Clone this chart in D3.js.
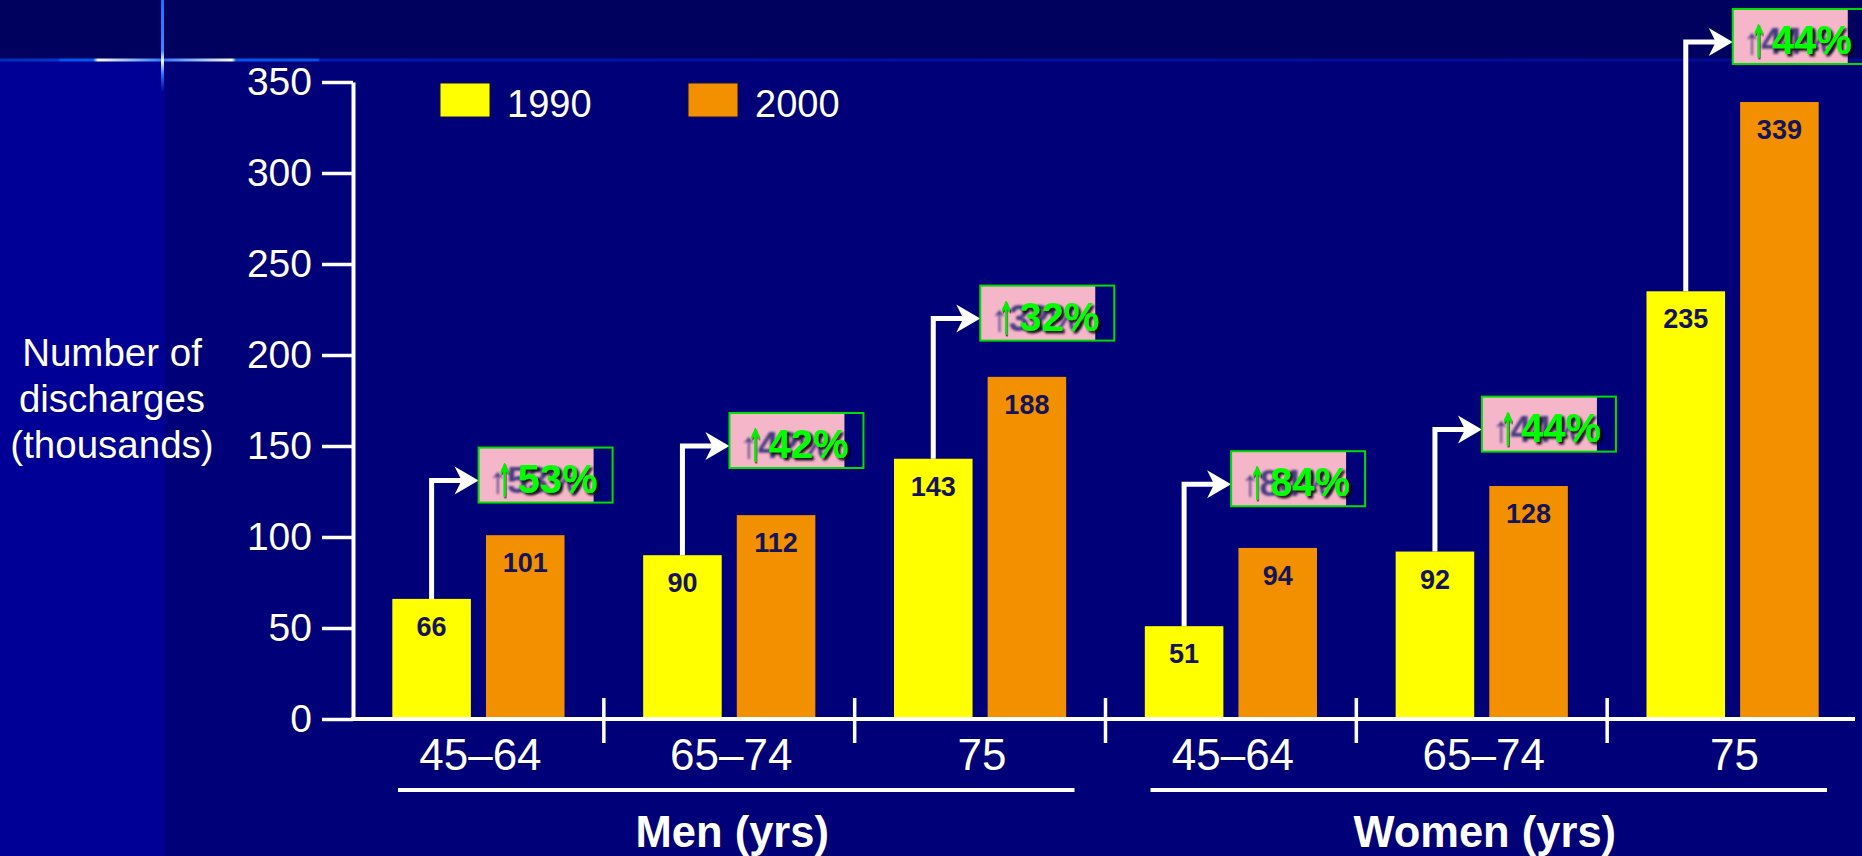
<!DOCTYPE html>
<html>
<head>
<meta charset="utf-8">
<script src="https://cdn.jsdelivr.net/npm/d3@7"></script>
<style>
  html, body { margin: 0; padding: 0; background: #000078; overflow: hidden; }
  svg { display: block; }
  text { font-family: "Liberation Sans", Arial, Helvetica, sans-serif; }
</style>
</head>
<body>
<svg id="chart" width="1862" height="856"></svg>
<script>
// Hospital discharges (thousands) by sex and age band, 1990 vs 2000
const groups = ["Men (yrs)", "Women (yrs)"];
const ageBands = ["45–64", "65–74", "75"];
const categories = ["Men 45–64", "Men 65–74", "Men 75", "Women 45–64", "Women 65–74", "Women 75"];
const series = ["1990", "2000"];
const values1990 = [66, 90, 143, 51, 92, 235];
const values2000 = [101, 112, 188, 94, 128, 339];
const pctChange = ["53%", "42%", "32%", "84%", "44%", "44%"];
const pctLevel = [131, 150, 220, 129, 159, 372];   // height (thousands) of each change callout
const yTicks = [0, 50, 100, 150, 200, 250, 300, 350];

const W = 1862, H = 856;
const svg = d3.select("#chart");
const defs = svg.append("defs");
const halo = sel => sel.attr("stroke", "#000030").attr("stroke-width", 1)
  .attr("stroke-opacity", 0.5).attr("paint-order", "stroke");

// ---- slide background ----
svg.append("rect").attr("width", W).attr("height", H).attr("fill", "#000078");
svg.append("rect").attr("x", 0).attr("y", 60).attr("width", 165).attr("height", H - 60).attr("fill", "#000096");
svg.append("rect").attr("width", W).attr("height", 60).attr("fill", "#00005f");

const hg = defs.append("linearGradient").attr("id", "hline").attr("x1", 0).attr("x2", W).attr("y1", 0).attr("y2", 0)
  .attr("gradientUnits", "userSpaceOnUse");
[[0, "#0030b8"], [58, "#0036c8"], [60, "#0058f0"], [93, "#0058f0"], [98, "#fbfbe6"], [163, "#2a78ff"],
 [232, "#fbfbe6"], [236, "#0058f0"], [318, "#0052ea"], [320, "#0018b4"], [700, "#0012a8"], [1862, "#000c90"]]
  .forEach(([o, c]) => hg.append("stop").attr("offset", o / W).attr("stop-color", c));
svg.append("rect").attr("x", 0).attr("y", 58.5).attr("width", W).attr("height", 3).attr("fill", "url(#hline)");

const vg = defs.append("linearGradient").attr("id", "vline").attr("x1", 0).attr("x2", 0).attr("y1", 0).attr("y2", 1);
[[0, "#1e70ff", 1], [0.55, "#3a86ff", 1], [0.66, "#fbfbe6", 1], [0.8, "#2a78ff", 1], [1, "#1e70ff", 0]]
  .forEach(([o, c, a]) => vg.append("stop").attr("offset", o).attr("stop-color", c).attr("stop-opacity", a));
svg.append("rect").attr("x", 161).attr("y", 0).attr("width", 3).attr("height", 92).attr("fill", "url(#vline)");

// ---- filters ----
const sh = defs.append("filter").attr("id", "greenShadow").attr("x", "-20%").attr("y", "-20%").attr("width", "140%").attr("height", "140%");
sh.append("feDropShadow").attr("dx", 2.5).attr("dy", 2.5).attr("stdDeviation", 0.8)
  .attr("flood-color", "#000000").attr("flood-opacity", 0.9);
const sh2 = defs.append("filter").attr("id", "arrowShadow").attr("x", "-30%").attr("y", "-20%").attr("width", "160%").attr("height", "140%");
sh2.append("feDropShadow").attr("dx", 1.5).attr("dy", 1.5).attr("stdDeviation", 0.6)
  .attr("flood-color", "#000000").attr("flood-opacity", 0.7);
const bl = defs.append("filter").attr("id", "soft").attr("x", "-20%").attr("y", "-20%").attr("width", "140%").attr("height", "140%");
bl.append("feGaussianBlur").attr("stdDeviation", 1.3);

// ---- scales ----
const x = d3.scaleBand().domain(d3.range(categories.length)).range([353, 1858]).paddingInner(0).paddingOuter(0);
const xs = d3.scaleBand().domain(series).range([0, x.step()]).paddingInner(0.161).paddingOuter(0.42);
const y = d3.scaleLinear().domain([0, 350]).range([719, 82]);
const color = d3.scaleOrdinal().domain(series).range(["#ffff00", "#f39000"]);

const rows = categories.map((c, i) => ({ i, c, v: { "1990": values1990[i], "2000": values2000[i] } }));

// ---- bars ----
const barG = svg.append("g");
rows.forEach(r => {
  series.forEach(s => {
    const bx = x(r.i) + xs(s);
    barG.append("rect")
      .attr("x", bx).attr("y", y(r.v[s]))
      .attr("width", xs.bandwidth()).attr("height", y(0) - y(r.v[s]))
      .attr("fill", color(s));
    barG.append("text")
      .attr("x", bx + xs.bandwidth() / 2).attr("y", y(r.v[s]) + 37)
      .attr("text-anchor", "middle")
      .attr("font-size", 27).attr("font-weight", "bold")
      .attr("fill", "#14145a")
      .text(r.v[s]);
  });
});

// ---- y axis ----
const yAxis = svg.append("g").attr("transform", "translate(353,0)")
  .call(d3.axisLeft(y).tickValues(yTicks).tickSize(31).tickPadding(10).tickSizeOuter(0));
yAxis.select(".domain").attr("stroke", "#ffffff").attr("stroke-width", 4);
yAxis.selectAll(".tick line").attr("stroke", "#ffffff").attr("stroke-width", 3.5);
yAxis.selectAll(".tick text")
  .attr("fill", "#ffffff").attr("font-size", 39)
  .attr("font-family", "\"Liberation Sans\", Arial, sans-serif")
  .call(halo);

// y title
const yTitle = svg.append("text").attr("text-anchor", "middle").attr("fill", "#ffffff").attr("font-size", 38.5).call(halo);
["Number of", "discharges", "(thousands)"].forEach((t, k) =>
  yTitle.append("tspan").attr("x", 112).attr("y", 366 + k * 46).text(t));

// ---- x baseline and category separators ----
svg.append("line").attr("x1", 351).attr("x2", 1855).attr("y1", y(0)).attr("y2", y(0))
  .attr("stroke", "#ffffff").attr("stroke-width", 4);
d3.range(1, categories.length).forEach(i => {
  svg.append("line").attr("x1", x(i)).attr("x2", x(i)).attr("y1", y(0) - 21).attr("y2", y(0) + 24)
    .attr("stroke", "#ffffff").attr("stroke-width", 3.5);
});

// category labels
rows.forEach(r => {
  svg.append("text")
    .attr("x", x(r.i) + x.bandwidth() / 2 + 2).attr("y", 770)
    .attr("text-anchor", "middle").attr("fill", "#ffffff").attr("font-size", 44)
    .call(halo)
    .text(ageBands[r.i % 3]);
});

// group underline + labels
groups.forEach((g, gi) => {
  const x0 = x(gi * 3), x1 = x(gi * 3 + 2) + x.bandwidth();
  svg.append("line").attr("x1", x0 + 45).attr("x2", x1 - 31).attr("y1", 790).attr("y2", 790)
    .attr("stroke", "#ffffff").attr("stroke-width", 4);
  svg.append("text").attr("x", (x0 + x1) / 2 + 3).attr("y", 847)
    .attr("text-anchor", "middle").attr("fill", "#ffffff").attr("font-size", 43.5).attr("font-weight", "bold")
    .call(halo)
    .text(g);
});

// ---- legend ----
const legendX = [440, 688];
series.forEach((s, k) => {
  svg.append("rect").attr("x", legendX[k]).attr("y", 83).attr("width", 50).attr("height", 34)
    .attr("fill", color(s)).attr("stroke", "#101040").attr("stroke-width", 1);
  svg.append("text").attr("x", legendX[k] + 67).attr("y", 117)
    .attr("fill", "#ffffff").attr("font-size", 38)
    .call(halo)
    .text(s);
});

// ---- change callouts ----
const callG = svg.append("g");
rows.forEach(r => {
  const cx = x(r.i) + xs("1990") + xs.bandwidth() / 2;
  const ay = y(pctLevel[r.i]);
  const bx = cx + 47;
  // connector from the 1990 bar up and over to the box
  callG.append("path")
    .attr("d", `M${cx},${y(r.v["1990"])}V${ay}H${bx - 14}`)
    .attr("fill", "none").attr("stroke", "#ffffff").attr("stroke-width", 5).attr("stroke-linejoin", "miter");
  callG.append("path")
    .attr("d", `M${bx},${ay}L${bx - 24},${ay - 14}L${bx - 17},${ay}L${bx - 24},${ay + 14}Z`)
    .attr("fill", "#ffffff");
  // box
  callG.append("rect").attr("x", bx).attr("y", ay - 33).attr("width", 115).attr("height", 55)
    .attr("fill", "#f5b6c9");
  callG.append("text").attr("x", bx + 10).attr("y", ay + 12)
    .attr("font-size", 37).attr("font-weight", "bold").attr("fill", "#1c1c70")
    .attr("filter", "url(#soft)").attr("opacity", 0.8)
    .text("↑" + pctChange[r.i]);
  callG.append("rect").attr("x", bx).attr("y", ay - 33).attr("width", 134).attr("height", 55)
    .attr("fill", "none").attr("stroke", "#00dd00").attr("stroke-width", 2);
  // tall narrow up-arrow, then the bold percentage
  callG.append("text")
    .attr("transform", `translate(${bx + 26},${ay + 13}) scale(0.55,1)`)
    .attr("text-anchor", "middle")
    .attr("font-family", "\"DejaVu Sans\", sans-serif").attr("font-size", 54)
    .attr("fill", "#00f000").attr("stroke", "#00f000").attr("stroke-width", 1.6)
    .attr("filter", "url(#arrowShadow)")
    .text("↑");
  callG.append("text").attr("x", bx + 39).attr("y", ay + 12)
    .attr("font-size", 40).attr("font-weight", "bold")
    .attr("fill", "#00ff00").attr("filter", "url(#greenShadow)")
    .text(pctChange[r.i]);
});
</script>
</body>
</html>
